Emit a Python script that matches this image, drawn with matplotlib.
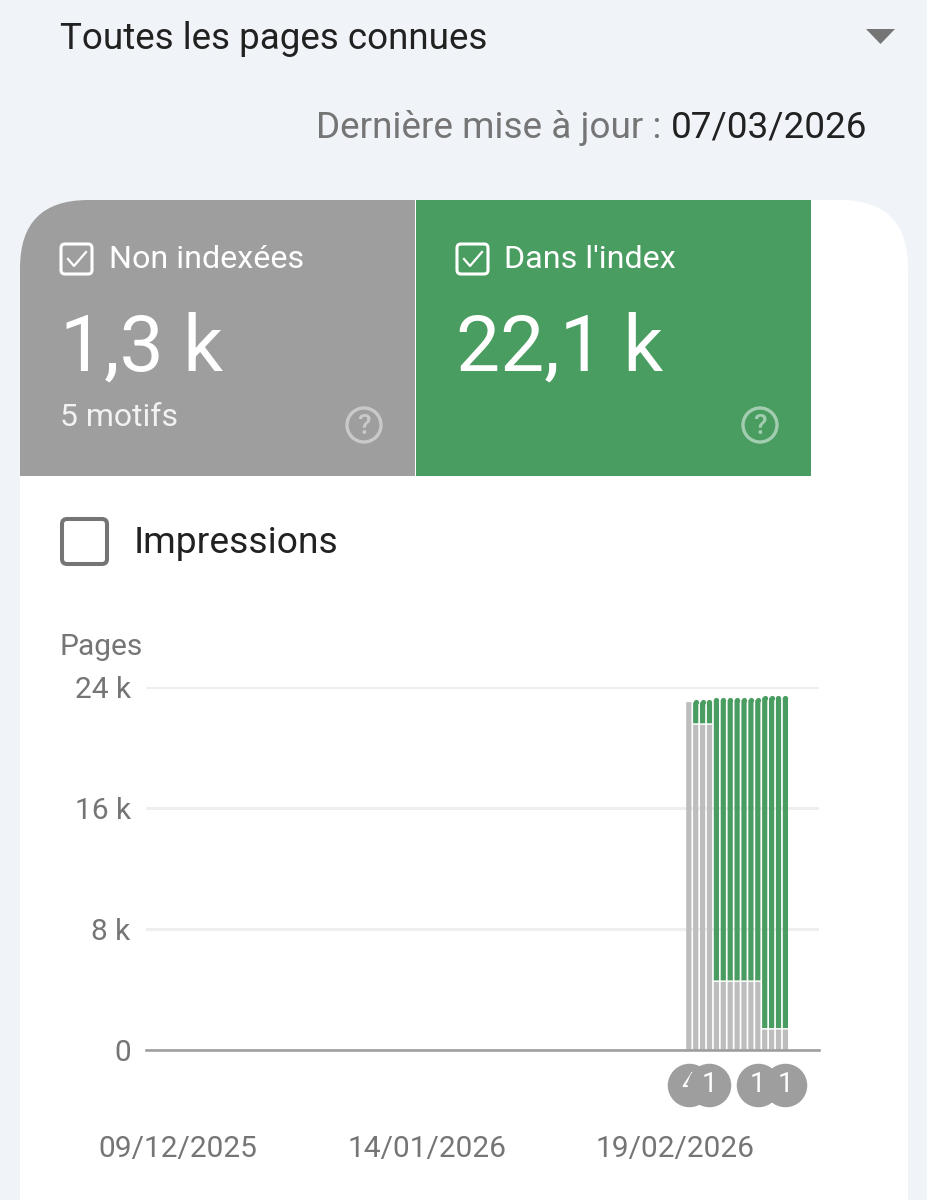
import datetime as dt
import matplotlib
matplotlib.use("Agg")
import matplotlib.pyplot as plt
from matplotlib.patches import FancyBboxPatch, Rectangle, Circle, Polygon

plt.rcParams['font.family'] = ['Roboto', 'DejaVu Sans']

# ---- data ----
start_date = dt.date(2026, 2, 21)
non_indexed = [23.0, 21.5, 21.5, 21.5, 4.5, 4.5, 4.5, 4.5, 4.5, 4.5, 4.5, 1.35, 1.35, 1.35, 1.35]
indexed = [0.0, 1.65, 1.65, 1.65, 18.8, 18.8, 18.8, 18.8, 18.8, 18.8, 18.8, 22.1, 22.1, 22.1, 22.1]
y_ticks = [0, 8, 16, 24]
y_labels = ["0", "8 k", "16 k", "24 k"]
x_tick_dates = [dt.date(2025, 12, 9), dt.date(2026, 1, 14), dt.date(2026, 2, 19)]
x_labels = ["09/12/2025", "14/01/2026", "19/02/2026"]
event_dates = [dt.date(2026, 2, 21), dt.date(2026, 2, 24), dt.date(2026, 3, 3), dt.date(2026, 3, 7)]
event_labels = ["4", "1", "1", "1"]

GREY = "#9e9e9e"
GREEN = "#4a9d60"
BAR_GREY = "#bdbdbd"
TXT = "#212121"
MUTED = "#757575"

W, H = 928, 1200
fig = plt.figure(figsize=(W / 100, H / 100), dpi=100, facecolor="#f0f4f9")
pt = 0.72  # px -> pt at dpi 100

bg = fig.add_axes([0, 0, 1, 1])
bg.set_xlim(0, W)
bg.set_ylim(H, 0)
bg.axis("off")

# card
bg.add_patch(FancyBboxPatch((20, 200), 888, 1200, boxstyle="round,pad=0,rounding_size=68",
                            fc="white", ec="none"))
# tabs
tab = FancyBboxPatch((20, 200), 700, 600, boxstyle="round,pad=0,rounding_size=68", fc=GREY, ec="none")
bg.add_patch(tab)
tab.set_clip_path(Rectangle((20, 200), 395, 276, transform=bg.transData))
bg.add_patch(Rectangle((416, 200), 395.5, 276, fc=GREEN, ec="none"))

# header
bg.text(60, 39, "Toutes les pages connues", fontsize=26.5, color=TXT, va="center", ha="left")
bg.add_patch(Polygon([(866, 29), (895, 29), (880.5, 44)], fc=MUTED, ec="none"))
bg.text(661, 128, "Dernière mise à jour :", fontsize=26.6, color=MUTED, va="center", ha="right")
bg.text(867, 128, "07/03/2026", fontsize=26.6, color=TXT, va="center", ha="right")


def check(x, y):
    bg.add_patch(FancyBboxPatch((x, y), 31, 30, boxstyle="round,pad=0,rounding_size=4",
                                fc="none", ec="white", lw=2.2))
    bg.plot([x + 7, x + 13, x + 25], [y + 15, y + 22, y + 8], color="white", lw=1.6)


def help_icon(cx, cy, col):
    bg.add_patch(Circle((cx, cy), 17, fc="none", ec=col, lw=2.4))
    bg.text(cx, cy + 1, "?", color=col, fontsize=20, ha="center", va="center", fontweight="medium")


check(61, 244)
bg.text(109, 260, "Non indexées", fontsize=23.2, color="white", va="center", ha="left")
bg.text(60, 349, "1,3 k", fontsize=56.5, color="white", va="center", ha="left")
bg.text(60, 418, "5 motifs", fontsize=23, color="#f2f2f2", va="center", ha="left")
help_icon(364, 425, "#c9c9c9")

check(457, 244)
bg.text(504, 260, "Dans l'index", fontsize=23.2, color="white", va="center", ha="left")
bg.text(456, 349, "22,1 k", fontsize=56.5, color="white", va="center", ha="left")
help_icon(760, 425, "#a3cdb0")

# impressions
bg.add_patch(FancyBboxPatch((62, 519), 45, 45, boxstyle="round,pad=0,rounding_size=5",
                            fc="white", ec=MUTED, lw=2.9))
bg.text(134, 543, "Impressions", fontsize=26.8, color=TXT, va="center", ha="left")
bg.text(60, 647, "Pages", fontsize=21.5, color=MUTED, va="center", ha="left")

# ---- chart ----
ax_l, ax_r, ax_t, ax_b = 146, 819, 687, 1050
ax = fig.add_axes([ax_l / W, 1 - ax_b / H, (ax_r - ax_l) / W, (ax_b - ax_t) / H])
ax.patch.set_alpha(0)
px_per_day = 6.9
ref = dt.date(2026, 2, 19)
ref_px = 675
num = lambda d: (d - ref).days
ax.set_xlim((ax_l - ref_px) / px_per_day, (ax_r - ref_px) / px_per_day)
ax.set_ylim(0, 24)
for s in ["top", "right", "left"]:
    ax.spines[s].set_visible(False)
ax.spines["bottom"].set_color(GREY)
ax.spines["bottom"].set_linewidth(2.6 * pt)

xs = [num(start_date + dt.timedelta(days=i)) for i in range(len(non_indexed))]
bw = 5.2 / px_per_day
gap = 0.1
rad = 0.17
ax.grid(axis="y", color="#eeeeee", lw=3 * pt, zorder=0)
ax.set_axisbelow(True)
for c in ax.bar(xs, non_indexed, width=bw, color=BAR_GREY, zorder=2):
    c.set_snap(False)
for x, g, v in zip(xs, non_indexed, indexed):
    if v > 0:
        for c in ax.bar(x, v - gap - rad, bottom=g + gap, width=bw, color=GREEN, zorder=2):
            c.set_snap(False)
        ax.plot([x], [g + v - rad], "o", ms=5.2 * pt, mfc=GREEN, mec="none", zorder=2,
                clip_on=False, snap=False)

ax.set_yticks(y_ticks, y_labels, fontsize=21.5, color=MUTED)
ax.set_xticks([num(d) for d in x_tick_dates], x_labels, fontsize=21.5, color=MUTED)
ax.tick_params(axis="y", length=0, pad=11)
ax.tick_params(axis="x", length=0, pad=61)

# event markers
trans = ax.get_xaxis_transform()
ev_y = -(1085 - ax_b) / (ax_b - ax_t)
for i, (d, lab) in enumerate(zip(event_dates, event_labels)):
    x = num(d)
    ax.plot([x], [ev_y], "o", transform=trans, ms=43.5 * pt, mfc=GREY, mec="none",
            clip_on=False, zorder=5 + i)
    ax.text(x, ev_y, lab, transform=trans, color="white", fontsize=20, ha="center", va="center",
            zorder=5 + i)

fig.savefig("out.png", dpi=100, facecolor=fig.get_facecolor())
